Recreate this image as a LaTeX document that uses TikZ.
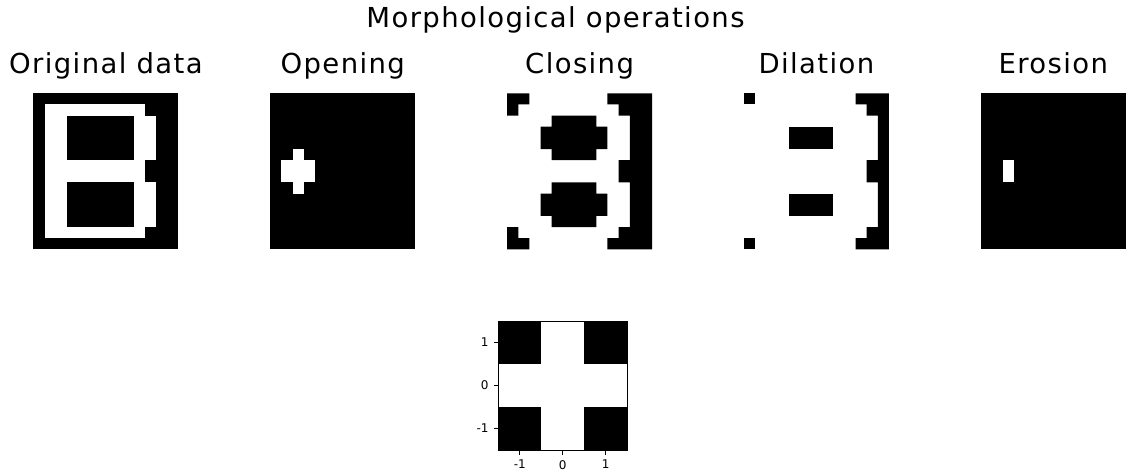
\documentclass[tikz,border=0pt]{standalone}
\usepackage{fontspec}
\setmainfont{DejaVu Sans}
\newfontfamily\titlefont[LetterSpace=5.0]{DejaVu Sans}
\tikzset{
  ttl/.style={font=\titlefont\fontsize{27.5}{30}\selectfont, anchor=base, inner sep=0pt},
  ticklbl/.style={font=\fontsize{12}{14}\selectfont, inner sep=0pt},
  tickmark/.style={line width=0.8pt, black},
  grid/.style={x=11.154pt, y=-11.143pt},
}
\begin{document}
\begin{tikzpicture}[x=1pt, y=-1pt]
\useasboundingbox (0,0) rectangle (1127,473);

% figure title
\node[ttl] (suptitle) at (555.5,28) {Morphological operations};

% panel titles
\node[ttl] (t1) at (105.9,74) {Original data};
\node[ttl] (t2) at (342.75,74) {Opening};
\node[ttl] (t3) at (579.6,74) {Closing};
\node[ttl] (t4) at (816.45,74) {Dilation};
\node[ttl] (t5) at (1053.3,74) {Erosion};

% original data: a 13x14 binary "B"
\begin{scope}[shift={(33.4,93.3)}, grid]
  \fill[black] (0,0) rectangle (13,14);
  \fill[white] (1,1) rectangle (10,13);
  \fill[white] (10,2) rectangle (11,6);
  \fill[white] (10,8) rectangle (11,12);
  \fill[black] (3,2) rectangle (9,6);
  \fill[black] (3,8) rectangle (9,12);
\end{scope}

% opening
\begin{scope}[shift={(270.25,93.3)}, grid]
  \fill[black] (0,0) rectangle (13,14);
  \fill[white] (2,5) rectangle (3,9);
  \fill[white] (1,6) rectangle (4,8);
\end{scope}

% closing
\begin{scope}[shift={(507.1,93.3)}, grid]
  \fill[white] (0,0) rectangle (13,14);
  \fill[black] (0,0) -- (2,0) -- (2,1) -- (1,1) -- (1,2) -- (0,2) -- cycle;
  \fill[black] (0,12) -- (1,12) -- (1,13) -- (2,13) -- (2,14) -- (0,14) -- cycle;
  \fill[black] (9,0) -- (13,0) -- (13,14) -- (9,14) -- (9,13) -- (10,13) -- (10,12)
     -- (11,12) -- (11,8) -- (10,8) -- (10,6) -- (11,6) -- (11,2) -- (10,2) -- (10,1)
     -- (9,1) -- cycle;
  \fill[black] (4,2) -- (8,2) -- (8,3) -- (9,3) -- (9,5) -- (8,5) -- (8,6) -- (4,6)
     -- (4,5) -- (3,5) -- (3,3) -- (4,3) -- cycle;
  \fill[black] (4,8) -- (8,8) -- (8,9) -- (9,9) -- (9,11) -- (8,11) -- (8,12) -- (4,12)
     -- (4,11) -- (3,11) -- (3,9) -- (4,9) -- cycle;
\end{scope}

% dilation
\begin{scope}[shift={(743.95,93.3)}, grid]
  \fill[white] (0,0) rectangle (13,14);
  \fill[black] (0,0) rectangle (1,1);
  \fill[black] (0,13) rectangle (1,14);
  \fill[black] (10,0) -- (13,0) -- (13,14) -- (10,14) -- (10,13) -- (11,13) -- (11,12)
     -- (12,12) -- (12,8) -- (11,8) -- (11,6) -- (12,6) -- (12,2) -- (11,2) -- (11,1)
     -- (10,1) -- cycle;
  \fill[black] (4,3) rectangle (8,5);
  \fill[black] (4,9) rectangle (8,11);
\end{scope}

% erosion
\begin{scope}[shift={(980.8,93.3)}, grid]
  \fill[black] (0,0) rectangle (13,14);
  \fill[white] (2,6) rectangle (3,8);
\end{scope}

% structuring element (3x3 cross) with axes
\begin{scope}[shift={(498.3,321)}, x=43pt, y=-43pt]
  \fill[white] (0,0) rectangle (3,3);
  \fill[black] (0,0) rectangle (1,1);
  \fill[black] (2,0) rectangle (3,1);
  \fill[black] (0,2) rectangle (1,3);
  \fill[black] (2,2) rectangle (3,3);
  \draw[line width=0.8pt] (0,0) rectangle (3,3);
  % y ticks
  \foreach \r/\lab [count=\i] in {0.5/1, 1.5/0, 2.5/-1} {
    \coordinate (yt\i) at (0,\r);
    \draw[tickmark] (yt\i) -- ++(-4.5pt,0);
    \node[ticklbl, anchor=east] (ylab\i) at ([xshift=-9.5pt]yt\i) {\lab};
  }
  % x ticks
  \foreach \c/\lab [count=\i] in {0.5/-1, 1.5/0, 2.5/1} {
    \coordinate (xt\i) at (\c,3);
    \draw[tickmark] (xt\i) -- ++(0,-4.5pt);
    \node[ticklbl, anchor=north] (xlab\i) at ([yshift=-10pt]xt\i) {\lab};
  }
\end{scope}
\end{tikzpicture}
\end{document}
